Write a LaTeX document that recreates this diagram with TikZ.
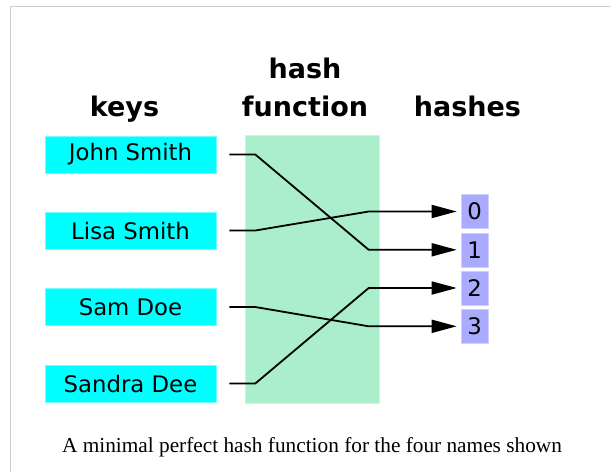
\documentclass[tikz,border=0pt]{standalone}
\usepackage{fontspec}
\setmainfont{Liberation Serif}
\newfontfamily\labelfont{DejaVu Sans}
\usetikzlibrary{arrows.meta,positioning}
\definecolor{keycolor}{RGB}{0,255,255}
\definecolor{hashfncolor}{RGB}{170,238,204}
\definecolor{hashcolor}{RGB}{170,170,255}
\colorlet{framecolor}{black!20}
\tikzset{
  key box/.style={
    fill=keycolor,
    draw=keycolor!55!white,
    line width=0.6pt,
    minimum width=171pt,
    minimum height=37pt,
    inner sep=0pt,
    font=\labelfont\fontsize{22.8}{26}\selectfont
  },
  hash box/.style={
    fill=hashcolor,
    draw=hashcolor!55!white,
    line width=0.6pt,
    minimum width=27pt,
    minimum height=34pt,
    inner sep=0pt,
    font=\labelfont\fontsize{22.8}{26}\selectfont
  },
  heading/.style={
    anchor=base,
    align=center,
    font=\labelfont\bfseries\fontsize{27}{38}\selectfont
  },
  hash arrow/.style={
    line width=1.8pt,
    shorten >=4pt,
    -{Triangle[length=25pt,width=13pt]}
  }
}
\begin{document}
\begin{tikzpicture}[x=1pt,y=-1pt]

  \useasboundingbox (0,0) rectangle (610,472);

  % Page frame.
  \draw[framecolor, line width=1.5pt] (10.5,472) -- (10.5,6.5) -- (610,6.5);

  % Column headings.
  \node[heading] (keyshead) at (124.5,116) {keys};
  \node[heading] (fnhead) at (305,116) {hash\\function};
  \node[heading] (hasheshead) at (467.5,116) {hashes};

  % Hash function block.
  \node[fill=hashfncolor, draw=hashfncolor!60!white, line width=0.6pt,
    minimum width=134pt, minimum height=268pt, inner sep=0pt]
    (hashfn) at (312,269) {};

  % Keys.
  \node[key box] (john) at (130.5,154.5) {John Smith};
  \node[key box] (lisa) at (130.5,230.5) {Lisa Smith};
  \node[key box] (sam) at (130.5,307) {Sam Doe};
  \node[key box] (sandra) at (130.5,383.5) {Sandra Dee};

  % Hashes.
  \node[hash box] (h0) at (474.5,211.5) {0};
  \node[hash box] (h1) at (474.5,249.8) {1};
  \node[hash box] (h2) at (474.5,288) {2};
  \node[hash box] (h3) at (474.5,326.3) {3};

  % Mapping of each key to its hash value.
  \draw[hash arrow] ([xshift=13pt]john.east) -- ([xshift=39pt]john.east)
    -- ([xshift=-92pt]h1.west) -- (h1.west);
  \draw[hash arrow] ([xshift=13pt]lisa.east) -- ([xshift=39pt]lisa.east)
    -- ([xshift=-92pt]h0.west) -- (h0.west);
  \draw[hash arrow] ([xshift=13pt]sam.east) -- ([xshift=39pt]sam.east)
    -- ([xshift=-92pt]h3.west) -- (h3.west);
  \draw[hash arrow] ([xshift=13pt]sandra.east) -- ([xshift=39pt]sandra.east)
    -- ([xshift=-92pt]h2.west) -- (h2.west);

  % Caption.
  \node[anchor=base, font=\fontsize{21.3}{25}\selectfont] (caption)
    at (312,452) {A minimal perfect hash function for the four names shown};

\end{tikzpicture}
\end{document}
